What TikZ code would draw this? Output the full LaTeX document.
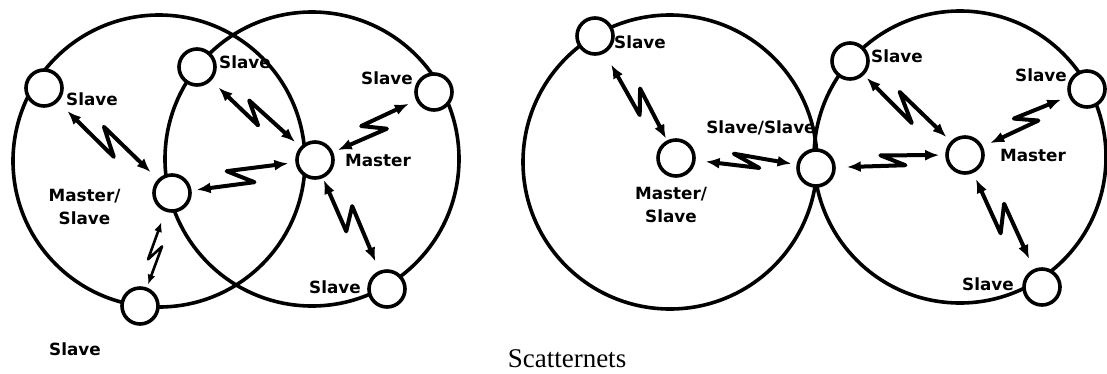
\documentclass[tikz,border=0pt]{standalone}
\usepackage{fontspec}
\setmainfont{Liberation Serif}
\newfontfamily\labfont{DejaVu Sans}
\usetikzlibrary{calc,arrows.meta}
\tikzset{
  net/.style={line width=3.6pt},
  dev/.style={circle, draw, line width=3.6pt, fill=white, minimum size=36pt, inner sep=0pt},
  lab/.style={font={\labfont\bfseries\fontsize{16.8}{23}\selectfont}, inner sep=0pt, align=center},
  boltline/.style={line width=4pt, line join=round, <->, >={Latex[length=14pt,width=11pt]}},
  thinbolt/.style={line width=2.6pt, >={Latex[length=10pt,width=8pt]}},
  caption/.style={font={\fontsize{27}{30}\selectfont}, inner sep=0pt}
}
% \bolt[opts]{from}{to}{gapA}{gapB}{fracP}{offP}{fracQ}{offQ}
\newcommand\bolt[9][]{%
  \pgfmathsetmacro\boltda{20+#4}%
  \pgfmathsetmacro\boltdb{20+#5}%
  \path ($(#2)!\boltda pt!(#3)$) coordinate (tA)
        ($(#3)!\boltdb pt!(#2)$) coordinate (tB);
  \path ($(tA)!#6!(tB)!#7pt!-90:(tB)$) coordinate (zP)
        ($(tA)!#8!(tB)!#9pt!90:(tB)$) coordinate (zQ);
  \draw[boltline,#1,shorten <=#4pt,shorten >=#5pt] (#2) -- (zP) -- (zQ) -- (#3);
}
\begin{document}
\begin{tikzpicture}[x=1pt,y=-1pt]
\useasboundingbox (0,0) rectangle (1107,373);
% piconets
\draw[net] (159,161) circle (146pt);
\draw[net] (312,159) circle (147pt);
\draw[net] (670,162) circle (147pt);
\draw[net] (960,157) circle (146pt);
% left scatternet devices
\node[dev] (S1) at (44,88) {};
\node[dev] (S2) at (197,67) {};
\node[dev] (MS) at (172,193) {};
\node[dev] (S3) at (140,306) {};
\node[dev] (M) at (315,160) {};
\node[dev] (S4) at (434,92) {};
\node[dev] (S5) at (387,289) {};
% right scatternet devices
\node[dev] (RS1) at (595,36) {};
\node[dev] (RMS) at (676,158) {};
\node[dev] (SS) at (816,168) {};
\node[dev] (RS2) at (850,61) {};
\node[dev] (RM) at (965,155) {};
\node[dev] (RS3) at (1087,89) {};
\node[dev] (RS4) at (1042,287) {};
% links
\bolt{S1}{MS}{13}{10}{0.63}{9}{0.37}{8}
\bolt{MS}{M}{5}{7}{0.61}{8}{0.35}{9}
\bolt[thinbolt]{MS}{S3}{11}{3}{0.62}{5}{0.365}{5}
\bolt{S2}{M}{10}{7}{0.58}{8}{0.34}{6}
\bolt{M}{S4}{5}{8}{0.63}{8.5}{0.38}{6.6}
\bolt{M}{S5}{2}{10}{0.58}{7.5}{0.38}{10}
\bolt{RS1}{RMS}{13}{2}{0.63}{6.5}{0.39}{8.5}
\bolt{RMS}{SS}{10}{5}{0.63}{4}{0.32}{8.4}
\bolt{SS}{RM}{11}{6}{0.63}{5}{0.37}{7}
\bolt{RS2}{RM}{4}{6}{0.64}{9}{0.345}{7.5}
\bolt{RM}{RS3}{8}{8}{0.64}{4.6}{0.39}{8.8}
\bolt{RM}{RS4}{6.6}{11}{0.62}{8.7}{0.37}{9.2}
% labels
\node[lab] (lS1) at (92,99) {Slave};
\node[lab] (lS2) at (245,62) {Slave};
\node[lab] (lMS) at (84.5,207) {Master/\\Slave};
\node[lab] (lS3) at (75,349) {Slave};
\node[lab] (lM) at (378,160) {Master};
\node[lab] (lS4) at (387,78) {Slave};
\node[lab] (lS5) at (335,287) {Slave};
\node[lab] (lRS1) at (640,42) {Slave};
\node[lab] (lRMS) at (671,205) {Master/\\Slave};
\node[lab] (lSS) at (761,128) {Slave/Slave};
\node[lab] (lRS2) at (897,56) {Slave};
\node[lab] (lRM) at (1033,155) {Master};
\node[lab] (lRS3) at (1041,75) {Slave};
\node[lab] (lRS4) at (988,284) {Slave};
\node[caption] (cap) at (567,359) {Scatternets};
\end{tikzpicture}
\end{document}
